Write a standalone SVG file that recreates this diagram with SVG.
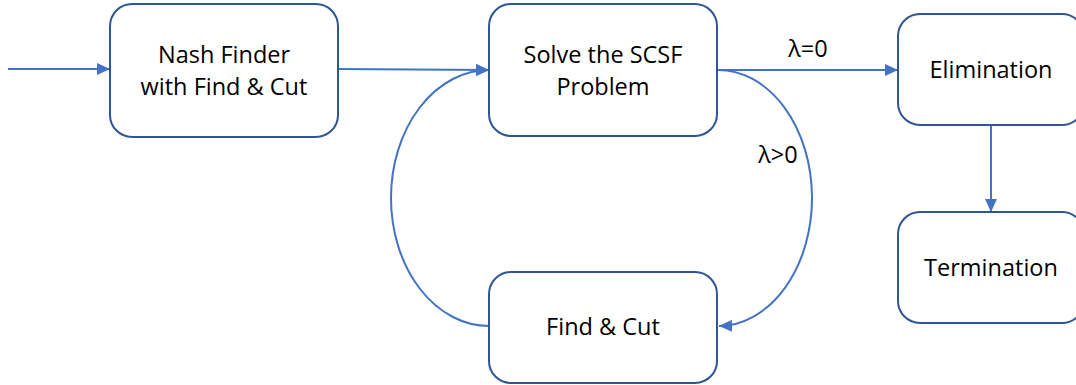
<svg xmlns="http://www.w3.org/2000/svg" width="1076" height="385" viewBox="0 0 1076 385">
<defs>
<style>
.box{fill:#fff;stroke:#2F5597;stroke-width:2}
.lbl{font-family:"Open Sans","Liberation Sans",sans-serif;font-size:23.5px;fill:#000;text-anchor:middle}
.con{fill:none;stroke:#4472C4;stroke-width:2}
</style>
<marker id="ah" markerUnits="userSpaceOnUse" markerWidth="14" markerHeight="12" refX="13" refY="6" orient="auto">
<path d="M0,0 L13,6 L0,12 z" fill="#4472C4"/>
</marker>
</defs>
<rect width="1076" height="385" fill="#fff"/>
<g id="connectors">
<line class="con" x1="8" y1="69" x2="110" y2="69" marker-end="url(#ah)"/>
<line class="con" x1="338" y1="69" x2="489" y2="70" marker-end="url(#ah)"/>
<line class="con" x1="717" y1="70" x2="898" y2="70" marker-end="url(#ah)"/>
<line class="con" x1="991" y1="125" x2="991" y2="212" marker-end="url(#ah)"/>
<path class="con" d="M717,70 A94,128 0 0 1 719,326" marker-end="url(#ah)"/>
<path class="con" d="M489,326 A98,128 0 0 1 489,70" marker-end="url(#ah)"/>
<text class="lbl" x="808" y="57">λ=0</text>
<text class="lbl" x="778" y="163">λ&gt;0</text>
</g>
<g id="nash">
<rect class="box" x="110" y="4" width="228" height="133" rx="22"/>
<text class="lbl" x="224" y="63">Nash Finder</text>
<text class="lbl" x="224" y="95">with Find &amp; Cut</text>
</g>
<g id="scsf">
<rect class="box" x="489" y="4" width="228" height="132" rx="22"/>
<text class="lbl" x="603" y="63">Solve the SCSF</text>
<text class="lbl" x="603" y="95">Problem</text>
</g>
<g id="findcut">
<rect class="box" x="489" y="272" width="228" height="111" rx="22"/>
<text class="lbl" x="603" y="335">Find &amp; Cut</text>
</g>
<g id="elimination">
<rect class="box" x="898" y="14" width="186" height="111" rx="22"/>
<text class="lbl" x="991" y="78">Elimination</text>
</g>
<g id="termination">
<rect class="box" x="898" y="212" width="186" height="111" rx="22"/>
<text class="lbl" x="991" y="276">Termination</text>
</g>
</svg>
